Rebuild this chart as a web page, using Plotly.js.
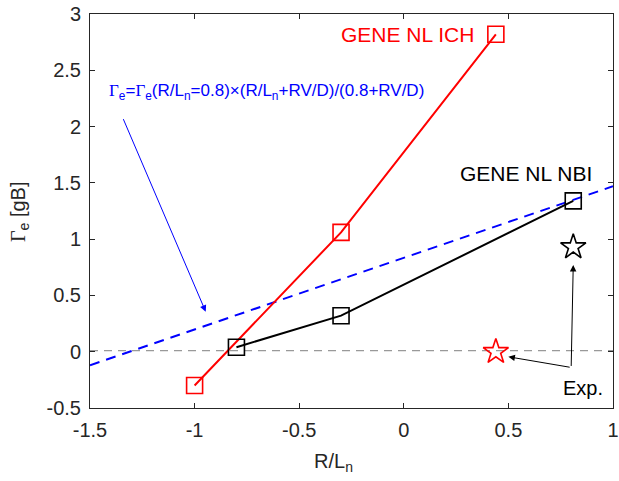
<!DOCTYPE html>
<html><head><meta charset="utf-8">
<script src="https://cdn.plot.ly/plotly-3.0.1.min.js"></script>
<style>body{margin:0;background:#fff}#g{width:619px;height:481px}</style>
</head><body><div id="g"></div>
<script>
// Data
const ichX = [-1.0, -0.3, 0.44];
const ichY = [-0.3, 1.06, 2.82];
const nbiX = [-0.8, -0.3, 0.81];
const nbiY = [0.04, 0.32, 1.34];
const modelX = [-1.5, 1.0];
const modelY = [-0.12, 1.47];
const zeroX = [-1.5, 1.0];
const zeroY = [0.01, 0.01];
const expX = [0.44, 0.81];
const expY = [0.0, 0.93];
const expColors = ['red', 'black'];
const xTicks = [-1.5, -1, -0.5, 0, 0.5, 1];
const yTicks = [-0.5, 0, 0.5, 1, 1.5, 2, 2.5, 3];

const FONT = 'Liberation Sans, Arial, sans-serif';
const G = '<span style="font-family:Liberation Serif">Γ</span>';
const traces = [
  {x: zeroX, y: zeroY, mode: 'lines', line: {color: '#999', width: 1.2, dash: '8px,6px'}, hoverinfo: 'skip'},
  {x: modelX, y: modelY, mode: 'lines', line: {color: '#0000ff', width: 2, dash: '10px,7px'}},
  {x: ichX, y: ichY, mode: 'lines+markers', line: {color: '#ff0000', width: 2},
   marker: {symbol: 'square-open', size: 16, color: '#ff0000', line: {width: 1.6}}},
  {x: nbiX, y: nbiY, mode: 'lines+markers', line: {color: '#000', width: 2},
   marker: {symbol: 'square-open', size: 16, color: '#000', line: {width: 1.6}}},
  {x: expX, y: expY, mode: 'markers',
   marker: {symbol: 'star-open', size: 19, color: expColors, line: {width: 1.6}}}
];

const ax = {
  showgrid: false, zeroline: false, showline: true, mirror: 'ticks', ticks: 'inside',
  ticklen: 5, linecolor: '#262626', tickcolor: '#262626', linewidth: 1,
  tickfont: {family: FONT, size: 20, color: '#262626'}
};

const pw = 619 - 90 - 6, ph = 481 - 14 - 73;
const layout = {
  width: 619, height: 481, showlegend: false,
  margin: {l: 90, r: 6, t: 14, b: 73},
  paper_bgcolor: '#fff', plot_bgcolor: '#fff',
  xaxis: Object.assign({}, ax, {range: [-1.5, 1], tickvals: xTicks, ticktext: xTicks.map(String), ticklabelstandoff: 4}),
  yaxis: Object.assign({}, ax, {range: [-0.5, 3], tickvals: yTicks, ticktext: yTicks.map(String), ticklabelstandoff: 4}),
  annotations: [
    {xref: 'paper', yref: 'paper', x: (333 - 90) / pw, y: 1 - (462 - 14) / ph, xanchor: 'center', yanchor: 'middle',
     text: 'R/L<sub>n</sub>', showarrow: false, font: {family: FONT, size: 20, color: '#262626'}},
    {xref: 'paper', yref: 'paper', x: (20 - 90) / pw, y: 1 - (212 - 14) / ph, xanchor: 'center', yanchor: 'middle',
     text: G + '<sub>e</sub> [gB]', showarrow: false, textangle: -90,
     font: {family: FONT, size: 20, color: '#262626'}},
    {x: 0.44, y: 2.82, xref: 'x', yref: 'y', text: 'GENE NL ICH', showarrow: false, xanchor: 'right', xshift: -20,
     font: {family: FONT, size: 21, color: '#ff0000'}},
    {x: 0.81, y: 1.58, xref: 'x', yref: 'y', text: 'GENE NL NBI', showarrow: false, xanchor: 'right', xshift: 21,
     font: {family: FONT, size: 21, color: '#000'}},
    {x: -1.42, y: 2.31, xref: 'x', yref: 'y', xanchor: 'left', showarrow: false,
     text: G + '<sub>e</sub>=' + G + '<sub>e</sub>(R/L<sub>n</sub>=0.8)×(R/L<sub>n</sub>+RV/D)/(0.8+RV/D)',
     font: {family: FONT, size: 17, color: '#0000ff'}},
    {x: -0.947, y: 0.356, xref: 'x', yref: 'y', ax: -83, ay: -194,
     showarrow: true, arrowhead: 2, arrowsize: 1.3, arrowwidth: 1, arrowcolor: '#0000ff', text: ''},
    {x: 0.81, y: 0.77, xref: 'x', yref: 'y', ax: 0.80, ay: -0.14, axref: 'x', ayref: 'y',
     showarrow: true, arrowhead: 2, arrowsize: 1.3, arrowwidth: 1, arrowcolor: '#000', text: ''},
    {x: 0.5, y: -0.045, xref: 'x', yref: 'y', ax: 0.80, ay: -0.14, axref: 'x', ayref: 'y',
     showarrow: true, arrowhead: 2, arrowsize: 1.3, arrowwidth: 1, arrowcolor: '#000', text: ''},
    {x: 0.855, y: -0.32, xref: 'x', yref: 'y', text: 'Exp.', showarrow: false,
     font: {family: FONT, size: 20, color: '#000'}}
  ]
};
Plotly.newPlot('g', traces, layout, {displayModeBar: false, staticPlot: true});
</script></body></html>
